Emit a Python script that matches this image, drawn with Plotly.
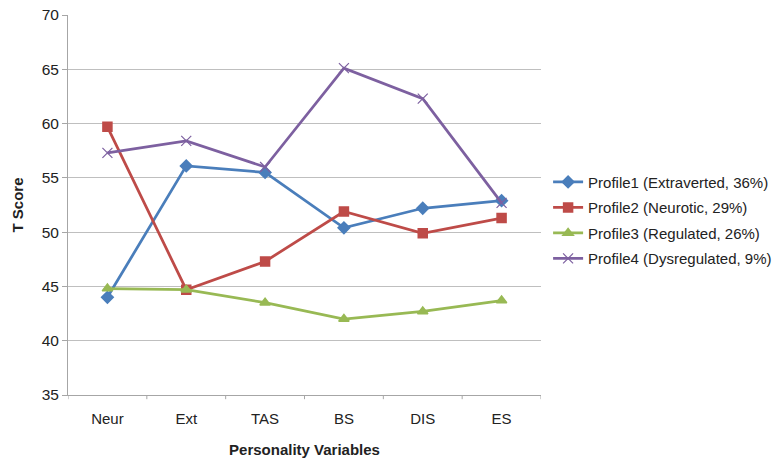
import plotly.graph_objects as go

categories = ["Neur", "Ext", "TAS", "BS", "DIS", "ES"]
profile1 = [44.0, 56.1, 55.5, 50.4, 52.2, 52.9]
profile2 = [59.7, 44.7, 47.3, 51.9, 49.9, 51.3]
profile3 = [44.8, 44.7, 43.5, 42.0, 42.7, 43.7]
profile4 = [57.3, 58.4, 56.0, 65.1, 62.3, 52.7]
names = ["Profile1 (Extraverted, 36%)", "Profile2 (Neurotic, 29%)",
         "Profile3 (Regulated, 26%)", "Profile4 (Dysregulated, 9%)"]
y_ticks = [35, 40, 45, 50, 55, 60, 65, 70]

colors = ["#4a7ebb", "#be4b48", "#98b954", "#7d60a0"]
symbols = ["diamond", "square", "triangle-up", "x-thin"]
sizes = [9, 9, 9, 10]
mline = [1.5, 1.5, 1.5, 1.2]

fig = go.Figure()
for i, (vals, name, c, s, sz, ml) in enumerate(zip([profile1, profile2, profile3, profile4], names, colors, symbols, sizes, mline)):
    fig.add_trace(go.Scatter(
        x=list(range(len(categories))), y=vals, name=name, mode="lines+markers",
        legendgroup=f"g{i}",
        line=dict(color=c, width=2.75),
        marker=dict(symbol=s, size=sz, color=c, line=dict(color=c, width=ml)),
    ))

fig.update_layout(
    width=778, height=464,
    margin=dict(l=68, r=237, t=15, b=69, autoexpand=False),
    paper_bgcolor="white", plot_bgcolor="white",
    font=dict(family="Liberation Sans, Arial, sans-serif", size=15, color="#222"),
    showlegend=True,
    legend=dict(x=1.015, y=0.46, xanchor="left", yanchor="middle",
                font=dict(size=15), traceorder="grouped", tracegroupgap=3, itemwidth=30),
    xaxis=dict(
        range=[-0.5, len(categories) - 0.5], automargin=False,
        tickmode="array", tickvals=list(range(len(categories))), ticktext=categories,
        showgrid=False, showline=True, linecolor="#a6a6a6", linewidth=1,
        ticks="outside", ticklen=10, tickcolor="rgba(0,0,0,0)", zeroline=False,
        title=dict(text="<b>Personality Variables</b>", standoff=18, font=dict(size=15)),
    ),
    yaxis=dict(
        range=[35, 70], tickvals=y_ticks, automargin=False,
        showgrid=True, gridcolor="#bfbfbf", gridwidth=1,
        showline=True, linecolor="#a6a6a6", linewidth=1,
        ticks="outside", ticklen=5, tickcolor="#a6a6a6",
        zeroline=False, tickfont=dict(size=15.5),
        title=dict(text="<b>T Score</b>", standoff=14, font=dict(size=15)),
    ),
)

# category boundary tick marks on the x axis
for i in range(len(categories) + 1):
    fig.add_shape(type="line", xref="x", yref="paper", x0=i - 0.5, x1=i - 0.5,
                  y0=0, y1=-0.011, line=dict(color="#a6a6a6", width=1))

fig.write_html("out.html", config={"displayModeBar": False},
               post_script="document.body.style.margin='0';")
